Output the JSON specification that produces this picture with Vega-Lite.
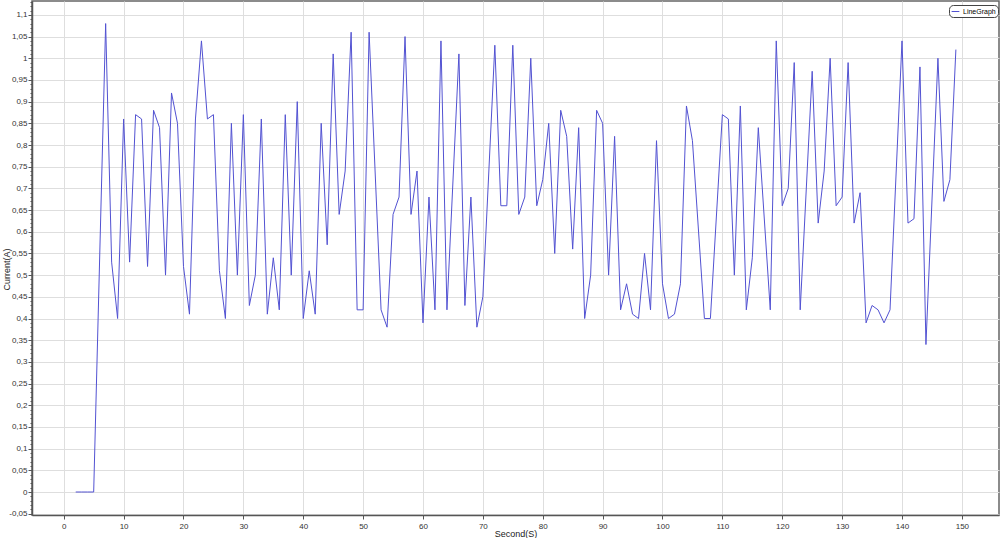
{
  "$schema": "https://vega.github.io/schema/vega-lite/v6.json",
  "autosize": "none",
  "width": 967,
  "height": 514,
  "padding": {"left": 32, "top": 1, "right": 1, "bottom": 23},
  "background": "#ffffff",
  "config": {
    "view": {"stroke": "#666666", "strokeWidth": 1.5},
    "font": "Liberation Sans",
    "axis": {
      "labelFont": "Liberation Sans",
      "labelFontSize": 8,
      "labelColor": "#333333",
      "titleFont": "Liberation Sans",
      "titleFontSize": 9,
      "titleFontWeight": "normal",
      "titleColor": "#222222",
      "domainColor": "#555555",
      "domainWidth": 1.5,
      "tickColor": "#555555",
      "gridColor": "#dedede",
      "gridWidth": 1
    }
  },
  "data": {
    "values": [
      {"second": 2, "current": 0}, {"second": 3, "current": 0}, {"second": 4, "current": 0}, {"second": 5, "current": 0},
      {"second": 7, "current": 1.08}, {"second": 8, "current": 0.53}, {"second": 9, "current": 0.40}, {"second": 10, "current": 0.86},
      {"second": 11, "current": 0.53}, {"second": 12, "current": 0.87}, {"second": 13, "current": 0.86}, {"second": 14, "current": 0.52},
      {"second": 15, "current": 0.88}, {"second": 16, "current": 0.84}, {"second": 17, "current": 0.50}, {"second": 18, "current": 0.92},
      {"second": 19, "current": 0.85}, {"second": 20, "current": 0.52}, {"second": 21, "current": 0.41}, {"second": 22, "current": 0.86},
      {"second": 23, "current": 1.04}, {"second": 24, "current": 0.86}, {"second": 25, "current": 0.87}, {"second": 26, "current": 0.51},
      {"second": 27, "current": 0.40}, {"second": 28, "current": 0.85}, {"second": 29, "current": 0.50}, {"second": 30, "current": 0.87},
      {"second": 31, "current": 0.43}, {"second": 32, "current": 0.50}, {"second": 33, "current": 0.86}, {"second": 34, "current": 0.41},
      {"second": 35, "current": 0.54}, {"second": 36, "current": 0.42}, {"second": 37, "current": 0.87}, {"second": 38, "current": 0.50},
      {"second": 39, "current": 0.90}, {"second": 40, "current": 0.40}, {"second": 41, "current": 0.51}, {"second": 42, "current": 0.41},
      {"second": 43, "current": 0.85}, {"second": 44, "current": 0.57}, {"second": 45, "current": 1.01}, {"second": 46, "current": 0.64},
      {"second": 47, "current": 0.74}, {"second": 48, "current": 1.06}, {"second": 49, "current": 0.42}, {"second": 50, "current": 0.42},
      {"second": 51, "current": 1.06}, {"second": 53, "current": 0.42}, {"second": 54, "current": 0.38}, {"second": 55, "current": 0.64},
      {"second": 56, "current": 0.68}, {"second": 57, "current": 1.05}, {"second": 58, "current": 0.64}, {"second": 59, "current": 0.74},
      {"second": 60, "current": 0.39}, {"second": 61, "current": 0.68}, {"second": 62, "current": 0.42}, {"second": 63, "current": 1.04},
      {"second": 64, "current": 0.42}, {"second": 66, "current": 1.01}, {"second": 67, "current": 0.43}, {"second": 68, "current": 0.68},
      {"second": 69, "current": 0.38}, {"second": 70, "current": 0.45}, {"second": 72, "current": 1.03}, {"second": 73, "current": 0.66},
      {"second": 74, "current": 0.66}, {"second": 75, "current": 1.03}, {"second": 76, "current": 0.64}, {"second": 77, "current": 0.68},
      {"second": 78, "current": 1.00}, {"second": 79, "current": 0.66}, {"second": 80, "current": 0.72}, {"second": 81, "current": 0.85},
      {"second": 82, "current": 0.55}, {"second": 83, "current": 0.88}, {"second": 84, "current": 0.82}, {"second": 85, "current": 0.56},
      {"second": 86, "current": 0.84}, {"second": 87, "current": 0.40}, {"second": 88, "current": 0.50}, {"second": 89, "current": 0.88},
      {"second": 90, "current": 0.85}, {"second": 91, "current": 0.50}, {"second": 92, "current": 0.82}, {"second": 93, "current": 0.42},
      {"second": 94, "current": 0.48}, {"second": 95, "current": 0.41}, {"second": 96, "current": 0.40}, {"second": 97, "current": 0.55},
      {"second": 98, "current": 0.42}, {"second": 99, "current": 0.81}, {"second": 100, "current": 0.48}, {"second": 101, "current": 0.40},
      {"second": 102, "current": 0.41}, {"second": 103, "current": 0.48}, {"second": 104, "current": 0.89}, {"second": 105, "current": 0.81},
      {"second": 107, "current": 0.40}, {"second": 108, "current": 0.40}, {"second": 110, "current": 0.87}, {"second": 111, "current": 0.86},
      {"second": 112, "current": 0.50}, {"second": 113, "current": 0.89}, {"second": 114, "current": 0.42}, {"second": 115, "current": 0.54},
      {"second": 116, "current": 0.84}, {"second": 118, "current": 0.42}, {"second": 119, "current": 1.04}, {"second": 120, "current": 0.66},
      {"second": 121, "current": 0.70}, {"second": 122, "current": 0.99}, {"second": 123, "current": 0.42}, {"second": 125, "current": 0.97},
      {"second": 126, "current": 0.62}, {"second": 127, "current": 0.74}, {"second": 128, "current": 1.00}, {"second": 129, "current": 0.66},
      {"second": 130, "current": 0.68}, {"second": 131, "current": 0.99}, {"second": 132, "current": 0.62}, {"second": 133, "current": 0.69},
      {"second": 134, "current": 0.39}, {"second": 135, "current": 0.43}, {"second": 136, "current": 0.42}, {"second": 137, "current": 0.39},
      {"second": 138, "current": 0.42}, {"second": 140, "current": 1.04}, {"second": 141, "current": 0.62}, {"second": 142, "current": 0.63},
      {"second": 143, "current": 0.98}, {"second": 144, "current": 0.34}, {"second": 146, "current": 1.00}, {"second": 147, "current": 0.67},
      {"second": 148, "current": 0.72}, {"second": 149, "current": 1.02}
    ]
  },
  "mark": {"type": "line", "strokeWidth": 1, "clip": true},
  "encoding": {
    "x": {
      "field": "second",
      "type": "quantitative",
      "scale": {"domain": [-5.3, 156.2], "nice": false, "zero": false},
      "axis": {
        "title": "Second(S)",
        "values": [0, 10, 20, 30, 40, 50, 60, 70, 80, 90, 100, 110, 120, 130, 140, 150],
        "tickSize": 4,
        "labelPadding": 3,
        "titleY": 18,
        "titleBaseline": "middle",
        "grid": true
      }
    },
    "y": {
      "field": "current",
      "type": "quantitative",
      "scale": {"domain": [-0.053, 1.132], "nice": false, "zero": false},
      "axis": {
        "title": "Current(A)",
        "titleX": -26,
        "titleY": 268,
        "titleAngle": -90,
        "titleAlign": "center",
        "titleBaseline": "middle",
        "values": [-0.05, -0.04, -0.03, -0.02, -0.01, 0, 0.01, 0.02, 0.03, 0.04, 0.05, 0.06, 0.07, 0.08, 0.09, 0.1, 0.11, 0.12, 0.13, 0.14, 0.15, 0.16, 0.17, 0.18, 0.19, 0.2, 0.21, 0.22, 0.23, 0.24, 0.25, 0.26, 0.27, 0.28, 0.29, 0.3, 0.31, 0.32, 0.33, 0.34, 0.35, 0.36, 0.37, 0.38, 0.39, 0.4, 0.41, 0.42, 0.43, 0.44, 0.45, 0.46, 0.47, 0.48, 0.49, 0.5, 0.51, 0.52, 0.53, 0.54, 0.55, 0.56, 0.57, 0.58, 0.59, 0.6, 0.61, 0.62, 0.63, 0.64, 0.65, 0.66, 0.67, 0.68, 0.69, 0.7, 0.71, 0.72, 0.73, 0.74, 0.75, 0.76, 0.77, 0.78, 0.79, 0.8, 0.81, 0.82, 0.83, 0.84, 0.85, 0.86, 0.87, 0.88, 0.89, 0.9, 0.91, 0.92, 0.93, 0.94, 0.95, 0.96, 0.97, 0.98, 0.99, 1, 1.01, 1.02, 1.03, 1.04, 1.05, 1.06, 1.07, 1.08, 1.09, 1.1, 1.11, 1.12, 1.13],
        "labelExpr": "abs(round(datum.value*100)) % 5 == 0 ? replace(toString(round(datum.value*100)/100), '.', ',') : ''",
        "labelPadding": 1,
        "labelOverlap": false,
        "tickSize": {"condition": {"test": "abs(round(datum.value*100)) % 5 == 0", "value": 4}, "value": 2},
        "grid": true,
        "gridOpacity": {"condition": {"test": "abs(round(datum.value*100)) % 5 == 0", "value": 1}, "value": 0}
      }
    },
    "color": {
      "datum": "LineGraph",
      "type": "nominal",
      "scale": {"range": ["#5252d2"]},
      "legend": {
        "title": null,
        "orient": "none",
        "legendX": 917,
        "legendY": 4,
        "symbolType": "stroke",
        "symbolSize": 60,
        "symbolStrokeWidth": 1,
        "symbolStrokeColor": "#5252d2",
        "labelFont": "Liberation Sans",
        "labelFontSize": 7,
        "labelColor": "#000000",
        "labelOffset": 3,
        "strokeColor": "#444444",
        "fillColor": "#ffffff",
        "cornerRadius": 4,
        "padding": 2
      }
    }
  }
}
